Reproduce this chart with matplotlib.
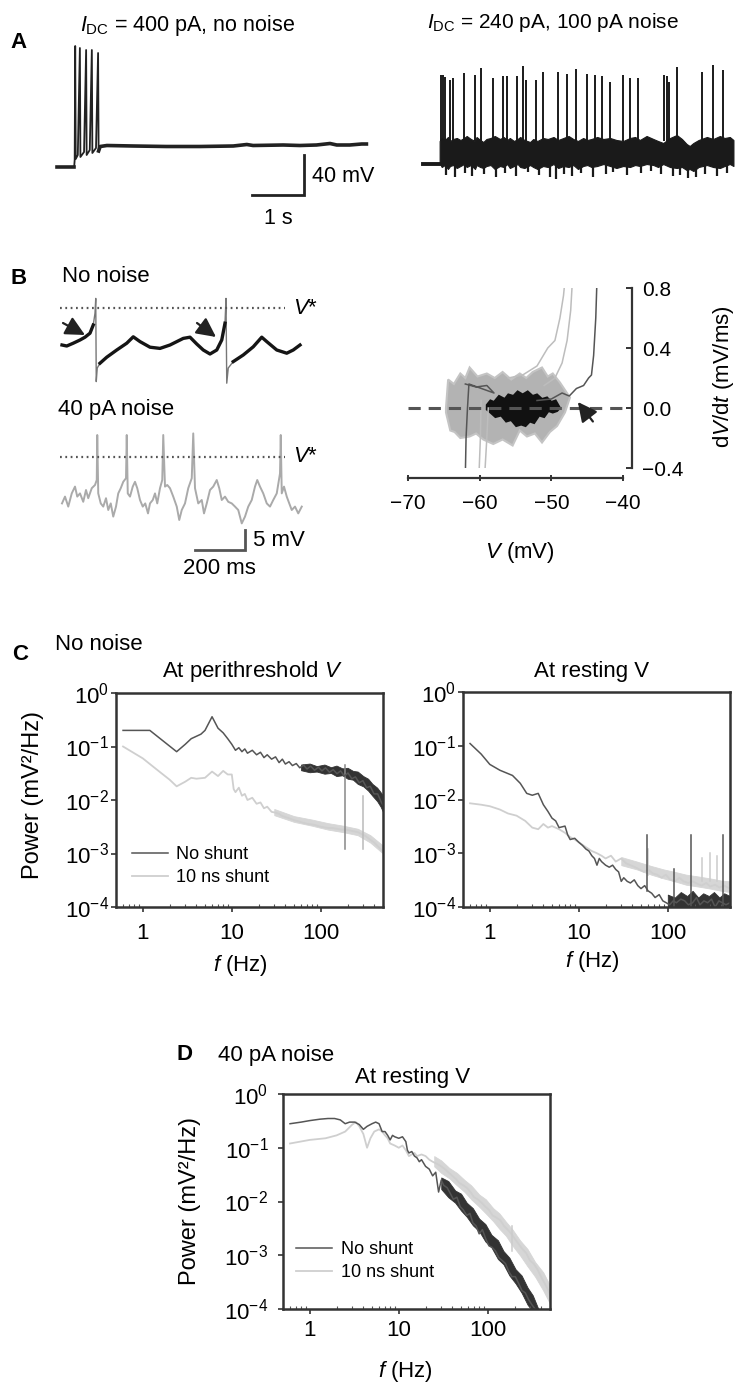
import numpy as np
import matplotlib
matplotlib.use("Agg")
import matplotlib.pyplot as plt
from matplotlib.ticker import NullLocator

plt.rcParams['font.family'] = ['Liberation Sans', 'DejaVu Sans']
plt.rcParams['mathtext.fontset'] = 'custom'
plt.rcParams['mathtext.rm'] = 'Liberation Sans'
plt.rcParams['mathtext.it'] = 'Liberation Sans:italic'
plt.rcParams['mathtext.bf'] = 'Liberation Sans:bold'
plt.rcParams['mathtext.sf'] = 'Liberation Sans'

# ---- A: voltage traces (t in s, V in mV) ----
a1_t = [0.0, 0.33, 0.34, 0.35, 0.36, 0.40, 0.44, 0.45, 0.52, 0.56, 0.57, 0.63, 0.67, 0.68,
        0.75, 0.79, 0.80, 0.83, 0.96, 1.47, 2.10, 2.75, 3.39, 3.65, 3.77, 4.35, 4.67, 4.99,
        5.25, 5.38, 5.63, 5.86, 5.95]
a1_v = [-76, -76, -69, 45, -68, -64, 43, -66, -61, 41, -64, -59, 41, -62, -57, 38, -60,
        -55.5, -54.5, -55, -55.5, -55.5, -55, -53.5, -54.5, -54, -54.5, -54, -52.5, -54,
        -54, -53, -53]

a2_pre_t = [0.0, 0.32]
a2_pre_v = [-73, -73]
a2_spk_t = [0.34, 0.38, 0.42, 0.51, 0.57, 0.79, 1.00, 1.11, 1.34, 1.53, 1.61, 1.81, 1.92,
            1.98, 2.17, 2.30, 2.60, 2.76, 2.94, 3.15, 3.31, 3.44, 3.60, 3.84, 3.98, 4.14,
            4.63, 4.69, 4.74, 4.89, 5.36, 5.58, 5.76]
a2_spk_v = [16, 16, 14, 11, 13, 18, 16, 23, 13, 15, 15, 15, 25, 11, 11, 19, 19, 17, 22,
            17, 16, 15, 9, 16, 13, 13, 16, 15, 9, 24, 19, 26, 21]
a2_band_t = [0.32, 0.36, 0.42, 0.48, 0.52, 0.58, 0.65, 0.72, 0.79, 0.84,
             0.92, 1.00, 1.03, 1.10, 1.16, 1.22, 1.30, 1.38, 1.48, 1.55,
             1.62, 1.67, 1.75, 1.82, 1.87, 1.95, 2.06, 2.12, 2.20, 2.31,
             2.40, 2.51, 2.60, 2.70, 2.80, 2.89, 2.98, 3.08, 3.16, 3.24,
             3.35, 3.47, 3.60, 3.72, 3.85, 3.98, 4.08, 4.17, 4.30, 4.43,
             4.52, 4.62, 4.75, 4.88, 4.98, 5.07, 5.13, 5.20, 5.30, 5.46,
             5.58, 5.71, 5.80, 5.90, 5.97]
a2_band_hi = [-50, -47, -49, -46, -50, -48, -47, -49, -47, -45,
              -48, -50, -46, -49, -51, -48, -47, -45, -48, -46,
              -49, -47, -50, -48, -46, -49, -51, -48, -50, -47,
              -48, -46, -49, -47, -45, -48, -50, -47, -49, -48,
              -46, -48, -47, -49, -50, -47, -46, -49, -45, -48,
              -50, -52, -47, -44, -48, -53, -55, -52, -49, -46,
              -48, -45, -47, -46, -49]
a2_band_lo = [-72, -76, -74, -78, -75, -74, -77, -75, -73, -76,
              -74, -78, -74, -76, -77, -75, -74, -78, -75, -76,
              -73, -77, -75, -73, -76, -77, -74, -76, -78, -75,
              -76, -73, -77, -75, -76, -74, -78, -75, -74, -76,
              -75, -73, -75, -77, -75, -76, -74, -75, -73, -74,
              -76, -73, -76, -77, -76, -79, -78, -80, -76, -74,
              -76, -77, -75, -73, -75]
# downward noise excursions below the band
a2_dip_t = [0.45, 0.62, 0.80, 0.95, 1.18, 1.40, 1.58, 1.78, 2.02, 2.24, 2.45, 2.55, 2.72,
            2.86, 3.04, 3.27, 3.52, 3.66, 3.92, 4.20, 4.38, 4.58, 4.80, 4.95, 5.10, 5.25,
            5.42, 5.65, 5.85]
a2_dip_v = [-84, -86, -82, -85, -83, -86, -82, -85, -81, -84, -86, -88, -83, -85, -82,
            -86, -83, -81, -84, -82, -80, -83, -85, -84, -87, -86, -83, -85, -82]

# ---- B left: traces (t in ms, V in mV) ----
v_star = -48
b1_t = [0, 19, 45, 72, 92, 112, 125, 132, 135, 137, 141, 152, 179, 219, 259, 285, 312,
        352, 392, 432, 485, 512, 539, 565, 592, 619, 639, 652, 656, 659, 665, 685, 725,
        765, 799, 819, 859, 899, 925, 952]
b1_v = [-57.25, -57.5, -56.8, -56, -55.3, -54.3, -52.25, -49.3, -45.6, -66.4, -63, -61.8,
        -60.3, -58.5, -56.8, -55.2, -56.4, -57.8, -58.1, -57.25, -55.6, -55.3, -57, -58.5,
        -59.5, -58.5, -56, -51.8, -45.6, -66.8, -63, -61.4, -59.75, -57.7, -55.3, -56.4,
        -58.5, -59.3, -58.5, -57.25]
b2_t = [0, 12, 25, 39, 52, 61, 72, 85, 96, 105, 119, 132, 139, 141, 145, 155, 165, 176,
        185, 195, 205, 216, 225, 235, 245, 256, 259, 263, 272, 283, 292, 301, 312, 323,
        333, 344, 352, 363, 372, 381, 392, 401, 405, 412, 421, 432, 445, 459, 469, 479,
        492, 505, 519, 525, 532, 545, 559, 568, 579, 592, 605, 619, 629, 639, 652, 665,
        679, 692, 705, 719, 732, 745, 759, 772, 781, 792, 805, 819, 832, 845, 859, 872,
        875, 879, 888, 899, 909, 919, 932, 945, 959]
b2_v = [-59.6, -57.9, -60.4, -57.1, -55.4, -57.9, -57.1, -59.2, -56.25, -58.3, -55.8,
        -55.0, -53.75, -42.5, -57.1, -59.6, -60.4, -58.3, -61.25, -59.6, -62.9, -60.4,
        -57.1, -55.8, -54.2, -53.3, -42.5, -57.1, -57.9, -55.4, -54.2, -55.8, -58.75,
        -60.4, -59.6, -62.1, -59.6, -58.75, -57.1, -59.6, -55.8, -53.75, -42.5, -55.4,
        -55.0, -55.8, -57.9, -60.4, -63.75, -61.25, -59.6, -55.8, -53.3, -42.1, -55.8,
        -59.6, -58.75, -62.1, -59.6, -56.25, -55.4, -53.75, -55.8, -58.75, -57.9, -59.2,
        -59.6, -60.4, -61.25, -64.6, -62.9, -60.4, -58.75, -55.4, -53.75, -55.4, -57.1,
        -59.6, -60.4, -58.75, -57.1, -52.1, -42.5, -57.1, -55.4, -57.9, -59.6, -61.25,
        -60.4, -62.1, -60.4]

# ---- B right: phase plane (V in mV, dV/dt in mV/ms) ----
grey_cloud_v = [-64.7, -64.4, -63.6, -62.7, -62.0, -61.4, -60.3, -59.0, -57.9, -56.8,
                -55.6, -54.4, -53.5, -52.6, -51.3, -50.5, -49.8, -48.8, -47.4, -48.1,
                -49.2, -50.2, -51.3, -52.3, -53.4, -54.4, -55.4, -56.8, -58.1, -59.5,
                -60.5, -61.4, -62.7, -63.5, -64.1, -64.7]
grey_cloud_dv = [0.0, 0.19, 0.16, 0.23, 0.2, 0.27, 0.21, 0.23, 0.2, 0.24,
                 0.19, 0.23, 0.2, 0.24, 0.27, 0.21, 0.23, 0.17, 0.07, -0.03,
                 -0.12, -0.16, -0.23, -0.17, -0.19, -0.15, -0.25, -0.21, -0.24, -0.21,
                 -0.17, -0.19, -0.2, -0.16, -0.15, -0.03]
black_cloud_v = [-59.0, -58.5, -58.0, -57.3, -56.5, -56.0, -55.3, -54.7, -54.0, -53.3,
                 -52.6, -52.0, -51.3, -50.6, -50.0, -49.4, -48.8, -49.2, -49.8, -50.4,
                 -51.0, -51.7, -52.4, -53.0, -53.6, -54.2, -54.9, -55.6, -56.3, -57.0,
                 -57.8, -58.5, -59.0]
black_cloud_dv = [0.02, 0.05, 0.04, 0.08, 0.06, 0.09, 0.08, 0.11, 0.09, 0.11,
                  0.08, 0.09, 0.06, 0.07, 0.04, 0.05, 0.0, -0.02, -0.03, -0.02,
                  -0.06, -0.05, -0.1, -0.09, -0.12, -0.11, -0.12, -0.08, -0.09, -0.05,
                  -0.06, -0.03, -0.01]
light_up1_v = [-56, -54, -52, -50.5, -49.5, -48.8, -48.3, -48.0]
light_up1_dv = [0.2, 0.22, 0.28, 0.4, 0.45, 0.6, 0.75, 0.9]
light_up2_v = [-51, -49.5, -48.5, -47.8, -47.3, -47.0]
light_up2_dv = [0.15, 0.2, 0.3, 0.45, 0.65, 0.9]
dark_up_v = [-52, -50, -48.5, -47.5, -46.5, -45.5, -44.8, -44.4, -44.1, -43.8, -43.6]
dark_up_dv = [0.05, 0.06, 0.1, 0.08, 0.13, 0.15, 0.2, 0.22, 0.35, 0.6, 0.9]
dark_down_v = [-62, -60.5, -59, -58, -61.5, -61.7, -61.9, -62.0]
dark_down_dv = [0.16, 0.14, 0.15, 0.1, 0.16, 0.0, -0.2, -0.45]
light_down1_v = [-59.8, -59.9, -60.1]
light_down1_dv = [0.05, -0.2, -0.45]
light_down2_v = [-58.8, -59.0, -59.3]
light_down2_dv = [0.0, -0.2, -0.45]

# ---- C/D: power spectra (f in Hz, P in mV^2/Hz) ----
c1_f_ns = [0.6, 1.2, 2.4, 3.0, 3.5, 4.5, 5.0, 6.0, 7.0, 8.0, 9.0, 10, 11, 12, 13, 14, 15,
           17, 19, 21, 23, 25, 28, 31, 34, 37, 40, 44, 48, 53, 58, 64, 70, 77, 85, 94, 103,
           113, 125, 138, 152, 167, 184, 202, 223, 245, 270, 297, 327, 360, 396, 436, 480, 500]
c1_p_ns = [0.2, 0.2, 0.08, 0.11, 0.14, 0.17, 0.2, 0.36, 0.22, 0.18, 0.14, 0.11, 0.085,
           0.095, 0.08, 0.09, 0.075, 0.085, 0.07, 0.078, 0.062, 0.07, 0.058, 0.064, 0.05,
           0.058, 0.047, 0.052, 0.044, 0.048, 0.04, 0.045, 0.038, 0.043, 0.036, 0.041,
           0.035, 0.04, 0.033, 0.037, 0.031, 0.035, 0.028, 0.032, 0.025, 0.027, 0.021,
           0.023, 0.017, 0.018, 0.013, 0.013, 0.009, 0.008]
c1_f_sh = [0.6, 1.0, 1.5, 2.0, 2.4, 3.0, 3.5, 4.0, 5.0, 6.0, 7.0, 8.0, 9.0, 10, 10.5, 11,
           12, 13, 14, 15, 17, 19, 21, 23, 25, 28, 31, 34, 37, 40, 45, 50, 56, 62, 70, 78,
           87, 97, 108, 120, 135, 150, 170, 190, 210, 235, 260, 290, 320, 360, 400, 450, 500]
c1_p_sh = [0.1, 0.06, 0.035, 0.024, 0.018, 0.022, 0.026, 0.025, 0.026, 0.034, 0.028,
           0.035, 0.03, 0.03, 0.016, 0.014, 0.017, 0.012, 0.013, 0.01, 0.011, 0.0085,
           0.009, 0.007, 0.0075, 0.006, 0.0058, 0.0055, 0.005, 0.0048, 0.0045, 0.0042,
           0.004, 0.0038, 0.0036, 0.0035, 0.0034, 0.0032, 0.0031, 0.003, 0.003, 0.0029,
           0.0028, 0.0028, 0.0027, 0.0026, 0.0025, 0.0023, 0.0021, 0.0018, 0.0016,
           0.0013, 0.0011]
c1_band_f = [60, 75, 90, 110, 130, 150, 175, 200, 230, 260, 300, 340, 380, 430, 470, 500]
c1_band_hi = [0.046, 0.048, 0.043, 0.046, 0.041, 0.044, 0.039, 0.04, 0.035, 0.034, 0.028,
              0.025, 0.02, 0.017, 0.014, 0.012]
c1_band_lo = [0.036, 0.033, 0.034, 0.031, 0.032, 0.028, 0.029, 0.025, 0.024, 0.02, 0.018,
              0.015, 0.012, 0.0095, 0.0075, 0.006]
c1_lband_f = [30, 50, 80, 120, 180, 260, 360, 500]
c1_lband_hi = [0.0068, 0.005, 0.0043, 0.0037, 0.0033, 0.0029, 0.0022, 0.0014]
c1_lband_lo = [0.0052, 0.0039, 0.0033, 0.0028, 0.0025, 0.0022, 0.0016, 0.001]
c1_spikes = [(186, 0.0012, 0.045, '#888888'), (300, 0.0012, 0.012, '#bbbbbb')]

c2_f_ns = [0.6, 0.8, 1.0, 1.3, 1.8, 2.2, 2.6, 3.0, 3.5, 4.0, 4.5, 5.0, 5.5, 6.0, 7.0, 7.5,
           8.0, 9.0, 10, 11, 12, 13, 14, 15, 16, 17, 18, 20, 22, 24, 26, 28, 30, 32, 35,
           38, 42, 46, 50, 55, 60, 66, 72, 80, 88, 96, 105, 115, 125, 140, 155, 170, 190,
           210, 230, 255, 280, 310, 340, 375, 410, 450, 500]
c2_p_ns = [0.11, 0.07, 0.045, 0.035, 0.028, 0.02, 0.013, 0.012, 0.013, 0.008, 0.006,
           0.0045, 0.004, 0.003, 0.0032, 0.0022, 0.0018, 0.0019, 0.0016, 0.0014, 0.0012,
           0.0011, 0.0009, 0.0008, 0.0006, 0.0008, 0.0007, 0.0006, 0.00055, 0.0006,
           0.0005, 0.00045, 0.0003, 0.00035, 0.0003, 0.00028, 0.00032, 0.00025, 0.00022,
           0.00025, 0.0002, 0.00018, 0.00015, 0.00017, 0.00013, 0.00012, 0.00011,
           0.00013, 0.00012, 0.00014, 0.00013, 0.00011, 0.00012, 0.00015, 0.00011,
           0.00013, 0.00012, 0.00014, 0.0001, 0.00013, 0.00012, 0.00011, 0.00012]
c2_f_sh = [0.6, 0.8, 1.0, 1.3, 1.6, 2.0, 2.5, 3.0, 3.5, 4.0, 4.5, 5, 6, 7, 8, 9, 10, 12,
           14, 16, 18, 20, 23, 26, 30, 34, 38, 43, 48, 54, 60, 68, 76, 85, 95, 105, 120,
           135, 150, 170, 190, 215, 240, 270, 300, 340, 380, 430, 500]
c2_p_sh = [0.0085, 0.008, 0.0075, 0.0065, 0.0055, 0.005, 0.004, 0.003, 0.0028, 0.0035,
           0.003, 0.0032, 0.0028, 0.0024, 0.002, 0.0018, 0.0016, 0.0013, 0.0011, 0.001,
           0.0009, 0.0008, 0.0009, 0.0007, 0.0008, 0.00065, 0.0006, 0.00055, 0.0005,
           0.00045, 0.0005, 0.00042, 0.0004, 0.00035, 0.0004, 0.00033, 0.0003, 0.00035,
           0.0003, 0.00028, 0.0003, 0.00027, 0.00025, 0.00028, 0.00024, 0.00026, 0.00023,
           0.00025, 0.00022]
c2_band_f = [100, 120, 140, 165, 190, 220, 250, 290, 330, 380, 430, 500]
c2_band_hi = [0.00017, 0.00015, 0.00019, 0.00016, 0.0002, 0.00015, 0.00018, 0.00016,
              0.00019, 0.00015, 0.00018, 0.00016]
c2_band_lo = [0.00009, 0.00008, 0.00009, 0.00008, 0.00009, 0.00008, 0.00009, 0.00008,
              0.00009, 0.00008, 0.00009, 0.00008]
c2_lband_f = [30, 45, 65, 90, 120, 160, 220, 300, 400, 500]
c2_lband_hi = [0.00085, 0.0007, 0.00058, 0.0005, 0.00045, 0.0004, 0.00037, 0.00034,
               0.00031, 0.0003]
c2_lband_lo = [0.0006, 0.0005, 0.0004, 0.00034, 0.0003, 0.00026, 0.00024, 0.00022,
               0.0002, 0.00019]
c2_spikes = [(60, 0.0004, 0.0012, '#cccccc'), (240, 0.0003, 0.0008, '#cccccc'),
             (300, 0.0003, 0.001, '#cccccc'), (360, 0.0003, 0.0009, '#cccccc'),
             (58, 0.0002, 0.0022, '#555555'), (117, 0.0001, 0.0005, '#555555'),
             (180, 0.0001, 0.0022, '#555555'), (420, 0.0001, 0.0022, '#555555')]

d_f_ns = [0.6, 0.8, 1.0, 1.3, 1.6, 1.9, 2.2, 2.5, 2.8, 3.2, 3.6, 4.0, 4.4, 5.0, 5.5, 6.0,
          6.5, 7.0, 7.5, 8.0, 8.5, 9, 10, 11, 12, 12.5, 13, 14, 15, 16, 17, 18, 20, 22, 24,
          26, 28, 30, 32, 35, 38, 41, 45, 49, 53, 58, 63, 68, 74, 80, 87, 95, 103, 112,
          122, 133, 145, 158, 172, 187, 204, 222, 242, 264, 287, 313, 340, 370]
d_p_ns = [0.28, 0.3, 0.32, 0.34, 0.35, 0.35, 0.33, 0.28, 0.3, 0.3, 0.27, 0.22, 0.25, 0.28,
          0.3, 0.28, 0.2, 0.2, 0.17, 0.14, 0.17, 0.16, 0.15, 0.16, 0.13, 0.09, 0.08, 0.085,
          0.07, 0.065, 0.055, 0.06, 0.045, 0.04, 0.03, 0.035, 0.015, 0.025, 0.02, 0.018,
          0.014, 0.011, 0.012, 0.008, 0.007, 0.0055, 0.006, 0.004, 0.0035, 0.0025, 0.003,
          0.002, 0.0015, 0.0014, 0.0012, 0.0009, 0.0008, 0.0007, 0.0005, 0.0004, 0.0004,
          0.0003, 0.00022, 0.0002, 0.00015, 0.00012, 0.0001, 0.00008]
d_f_sh = [0.6, 1.0, 1.5, 2.0, 2.5, 3.0, 3.3, 3.6, 4.0, 4.4, 4.8, 5.3, 6.0, 6.5, 7.0, 7.5,
          8, 9, 10, 11, 12, 13, 14, 15, 16, 18, 20, 22, 24, 27, 30, 33, 36, 40, 44, 48, 53,
          58, 64, 70, 77, 85, 94, 103, 113, 125, 138, 152, 167, 184, 202, 223, 245, 270,
          297, 327, 360, 396, 436, 480, 520]
d_p_sh = [0.12, 0.14, 0.15, 0.17, 0.2, 0.27, 0.3, 0.25, 0.18, 0.1, 0.15, 0.2, 0.22, 0.2,
          0.17, 0.15, 0.12, 0.11, 0.1, 0.11, 0.09, 0.07, 0.075, 0.08, 0.07, 0.075, 0.07,
          0.06, 0.055, 0.05, 0.045, 0.04, 0.035, 0.03, 0.026, 0.022, 0.02, 0.018, 0.015,
          0.012, 0.011, 0.0095, 0.008, 0.007, 0.0055, 0.005, 0.0045, 0.0035, 0.003,
          0.0025, 0.002, 0.0016, 0.0013, 0.0011, 0.0008, 0.0007, 0.00055, 0.0004,
          0.0003, 0.00022, 0.00016]
d_band_f = [30, 36, 43, 50, 58, 68, 80, 94, 110, 130, 150, 175, 205, 240, 280, 320, 370]
d_band_hi = [0.028, 0.024, 0.016, 0.014, 0.0095, 0.0075, 0.0048, 0.0038, 0.0024, 0.0019,
             0.0012, 0.0009, 0.00055, 0.00042, 0.00025, 0.00018, 0.0001]
d_band_lo = [0.017, 0.012, 0.0095, 0.0068, 0.0052, 0.0036, 0.0028, 0.0018, 0.0014,
             0.00085, 0.00068, 0.00042, 0.0003, 0.0002, 0.00012, 0.00009, 0.00006]
d_lband_f = [25, 30, 37, 45, 55, 65, 80, 95, 115, 135, 160, 190, 230, 280, 340, 420, 520]
d_lband_hi = [0.07, 0.058, 0.042, 0.034, 0.025, 0.02, 0.0135, 0.011, 0.0075, 0.006,
              0.0042, 0.003, 0.0019, 0.0013, 0.00075, 0.00048, 0.00024]
d_lband_lo = [0.045, 0.034, 0.027, 0.02, 0.015, 0.011, 0.008, 0.006, 0.0043, 0.0031,
              0.0023, 0.0015, 0.001, 0.00062, 0.0004, 0.00022, 0.00011]
d_spikes = [(186, 0.0012, 0.0035, '#cccccc')]

DARK = '#555555'
LIGHT = '#cfcfcf'

W, H = 738, 1384
fig = plt.figure(figsize=(W / 100, H / 100), dpi=100)


def px_axes(x0, y0, x1, y1):
    return fig.add_axes([x0 / W, 1 - y1 / H, (x1 - x0) / W, (y1 - y0) / H])


def px_text(x, y, s, **kw):
    kw.setdefault('va', 'center')
    kw.setdefault('fontsize', 16)
    fig.text(x / W, 1 - y / H, s, **kw)


# ---------------- A ----------------
ax = px_axes(40, 35, 400, 235)
ax.set_xlim(-0.327, 6.596)
ax.set_ylim(-144, 56)
ax.axis('off')
t1 = np.array(a1_t)
v1 = np.array(a1_v)
ax.plot(t1, v1, color='#222222', lw=1.3)
ax.plot(t1[t1 <= 0.33], v1[t1 <= 0.33], color='#222222', lw=2.6)
ax.plot(t1[t1 >= 0.80], v1[t1 >= 0.80], color='#222222', lw=2.6)
ax.plot([3.75, 4.75, 4.75], [-104, -104, -64], color='#222222', lw=2, solid_joinstyle='miter')

ax = px_axes(415, 40, 738, 200)
ax.set_xlim(-0.154, 6.058)
ax.set_ylim(-109, 51)
ax.axis('off')
ax.plot(a2_pre_t, a2_pre_v, color='#1a1a1a', lw=2.8)
ax.fill_between(a2_band_t, a2_band_lo, a2_band_hi, color='#1a1a1a', lw=0.8)
ax.vlines(a2_dip_t, -74, a2_dip_v, color='#1a1a1a', lw=1.6)
ax.vlines(a2_spk_t, -50, a2_spk_v, color='#1a1a1a', lw=1.4)

px_text(10, 43, 'A', fontsize=16, fontweight='bold')
px_text(80, 26, r'$I_{\mathrm{DC}}$ = 400 pA, no noise', fontsize=15.5)
px_text(427, 22, r'$I_{\mathrm{DC}}$ = 240 pA, 100 pA noise', fontsize=15)
px_text(312, 176, '40 mV', fontsize=15.5)
px_text(278, 218, '1 s', fontsize=15.5, ha='center')

# ---------------- B left ----------------
ax = px_axes(50, 285, 330, 395)
ax.set_xlim(-48, 1072)
ax.set_ylim(-69.75, -42.25)
ax.axis('off')
bt = np.array(b1_t, dtype=float)
bv = np.array(b1_v, dtype=float)
ax.plot(bt, bv, color='#777777', lw=1)
sub = bv.copy()
sub[(bv > -51) | (bv < -62.5)] = np.nan
ax.plot(bt, sub, color='#151515', lw=2.4)
ax.axhline(v_star, xmin=0.035, xmax=0.84, color='#555555', lw=1.6, ls=(0, (0.8, 1.6)))
arrow = dict(arrowstyle='-|>,head_length=0.9,head_width=0.45', color='#222222', lw=1.6,
             mutation_scale=13, shrinkA=0, shrinkB=0)
ax.annotate('', xy=(92, -54.75), xytext=(4, -51.75), arrowprops=arrow)
ax.annotate('', xy=(616, -55.25), xytext=(540, -51.75), arrowprops=arrow)

ax = px_axes(50, 425, 330, 560)
ax.set_xlim(-48, 1072)
ax.set_ylim(-73.75, -40)
ax.axis('off')
ax.plot(b2_t, b2_v, color='#aaaaaa', lw=1.4)
ax.axhline(v_star, xmin=0.035, xmax=0.84, color='#555555', lw=1.6, ls=(0, (0.8, 1.6)))
ax.plot([532, 732, 732], [-71.25, -71.25, -66.25], color='#555555', lw=2,
        solid_joinstyle='miter')

px_text(10, 278, 'B', fontsize=16, fontweight='bold')
px_text(62, 277, 'No noise')
px_text(293, 309, r'$V$*')
px_text(58, 410, '40 pA noise')
px_text(293, 457, r'$V$*')
px_text(253, 540, '5 mV')
px_text(183, 568, '200 ms')

# ---------------- B right ----------------
ax = px_axes(408, 288, 623, 468)
ax.set_xlim(-70, -40)
ax.set_ylim(-0.4, 0.8)
ax.fill(grey_cloud_v, grey_cloud_dv, color='#b3b3b3', lw=1.5, ec='#c4c4c4')
for vv, dd in [(light_up1_v, light_up1_dv), (light_up2_v, light_up2_dv),
               (light_down1_v, light_down1_dv), (light_down2_v, light_down2_dv)]:
    ax.plot(vv, dd, color='#bdbdbd', lw=1.1)
ax.plot(dark_down_v, dark_down_dv, color='#555555', lw=1.1)
ax.plot(dark_up_v, dark_up_dv, color='#555555', lw=1.1)
ax.fill(black_cloud_v, black_cloud_dv, color='#111111', lw=1.5, ec='#111111')
ax.axhline(0, color='#555555', lw=2.2, dashes=(4, 2.6))
ax.annotate('', xy=(-46.3, 0.04), xytext=(-44.2, -0.09),
            arrowprops=dict(arrowstyle='-|>,head_length=0.9,head_width=0.45',
                            color='#222222', lw=1.6, mutation_scale=13,
                            shrinkA=0, shrinkB=0))
for s in ['left', 'top']:
    ax.spines[s].set_visible(False)
ax.spines['bottom'].set_position(('outward', 7.2))
ax.spines['right'].set_position(('outward', 6.5))
ax.spines['bottom'].set_bounds(-70, -40)
ax.spines['right'].set_bounds(-0.4, 0.8)
for s in ['bottom', 'right']:
    ax.spines[s].set_linewidth(1.6)
    ax.spines[s].set_color('#333333')
ax.yaxis.tick_right()
ax.set_xticks([-70, -60, -50, -40])
ax.set_yticks([-0.4, 0.0, 0.4, 0.8])
ax.set_yticklabels(['\u22120.4', '0.0', '0.4', '0.8'])
ax.tick_params(axis='x', direction='inout', length=5, width=1.4, pad=9, labelsize=15,
               color='#333333')
ax.tick_params(axis='y', direction='in', length=4, width=1.4, pad=7, labelsize=15,
               color='#333333')
ax.patch.set_alpha(0)
px_text(520, 552, r'$V$ (mV)', ha='center')
px_text(723, 377, r'd$V$/d$t$ (mV/ms)', ha='center', rotation=90)


# ---------------- C / D ----------------
def spectrum(ax, f_ns, p_ns, f_sh, p_sh, band, lband, spikes, xpad, ypad):
    ax.fill_between(lband[0], lband[2], lband[1], color='#d6d6d6', lw=0.6)
    ax.plot(f_sh, p_sh, color=LIGHT, lw=1.3, label='10 ns shunt')
    for f, lo, hi, c in spikes:
        ax.plot([f, f], [lo, hi], color=c, lw=1.1)
    ax.fill_between(band[0], band[2], band[1], color='#333333', lw=0.6)
    ax.plot(f_ns, p_ns, color=DARK, lw=1.1, label='No shunt')
    ax.set_xscale('log')
    ax.set_yscale('log')
    ax.set_xlim(0.5, 500)
    ax.set_ylim(1e-4, 1)
    ax.set_xticks([1, 10, 100])
    ax.set_xticklabels(['1', '10', '100'])
    ax.set_yticks([1e-4, 1e-3, 1e-2, 1e-1, 1])
    ax.set_yticklabels([r'$10^{-4}$', r'$10^{-3}$', r'$10^{-2}$', r'$10^{-1}$', r'$10^{0}$'])
    ax.yaxis.set_minor_locator(NullLocator())
    ax.tick_params(which='major', direction='out', length=3.5, width=1.2, labelsize=16,
                   color='#333333')
    ax.tick_params(axis='x', pad=xpad)
    ax.tick_params(axis='y', pad=ypad)
    ax.tick_params(which='minor', direction='in', length=2, width=0.8, color='#555555')
    for s in ax.spines.values():
        s.set_linewidth(1.8)
        s.set_color('#333333')


ax = px_axes(116, 693, 383, 907)
spectrum(ax, c1_f_ns, c1_p_ns, c1_f_sh, c1_p_sh,
         (c1_band_f, c1_band_hi, c1_band_lo), (c1_lband_f, c1_lband_hi, c1_lband_lo),
         c1_spikes, 8, 1.5)
h, l = ax.get_legend_handles_labels()
ax.legend(h[::-1], l[::-1], loc='center left', bbox_to_anchor=(0.06, 0.19), frameon=False,
          fontsize=13, handlelength=2.0, handletextpad=0.45, labelspacing=0.35,
          borderaxespad=0, borderpad=0)

ax = px_axes(463, 692, 730, 907)
spectrum(ax, c2_f_ns, c2_p_ns, c2_f_sh, c2_p_sh,
         (c2_band_f, c2_band_hi, c2_band_lo), (c2_lband_f, c2_lband_hi, c2_lband_lo),
         c2_spikes, 8, 1.5)

px_text(12, 655, 'C', fontsize=16, fontweight='bold')
px_text(55, 645, 'No noise')
px_text(252, 671, r'At perithreshold $V$', ha='center')
px_text(592, 671, 'At resting V', ha='center')
px_text(33, 795, 'Power (mV\u00b2/Hz)', ha='center', rotation=90, fontsize=17)
px_text(240, 965, r'$f$ (Hz)', ha='center')
px_text(592, 961, r'$f$ (Hz)', ha='center')

ax = px_axes(283, 1094, 550, 1309)
spectrum(ax, d_f_ns, d_p_ns, d_f_sh, d_p_sh,
         (d_band_f, d_band_hi, d_band_lo), (d_lband_f, d_lband_hi, d_lband_lo),
         d_spikes, 4.5, 7)
h, l = ax.get_legend_handles_labels()
ax.legend(h[::-1], l[::-1], loc='center left', bbox_to_anchor=(0.05, 0.223), frameon=False,
          fontsize=13, handlelength=2.0, handletextpad=0.45, labelspacing=0.35,
          borderaxespad=0, borderpad=0)

px_text(176, 1055, 'D', fontsize=16, fontweight='bold')
px_text(218, 1055, '40 pA noise')
px_text(413, 1077, 'At resting V', ha='center')
px_text(190, 1201, 'Power (mV\u00b2/Hz)', ha='center', rotation=90, fontsize=17)
px_text(405, 1372, r'$f$ (Hz)', ha='center')

fig.savefig('out.png', dpi=100)
